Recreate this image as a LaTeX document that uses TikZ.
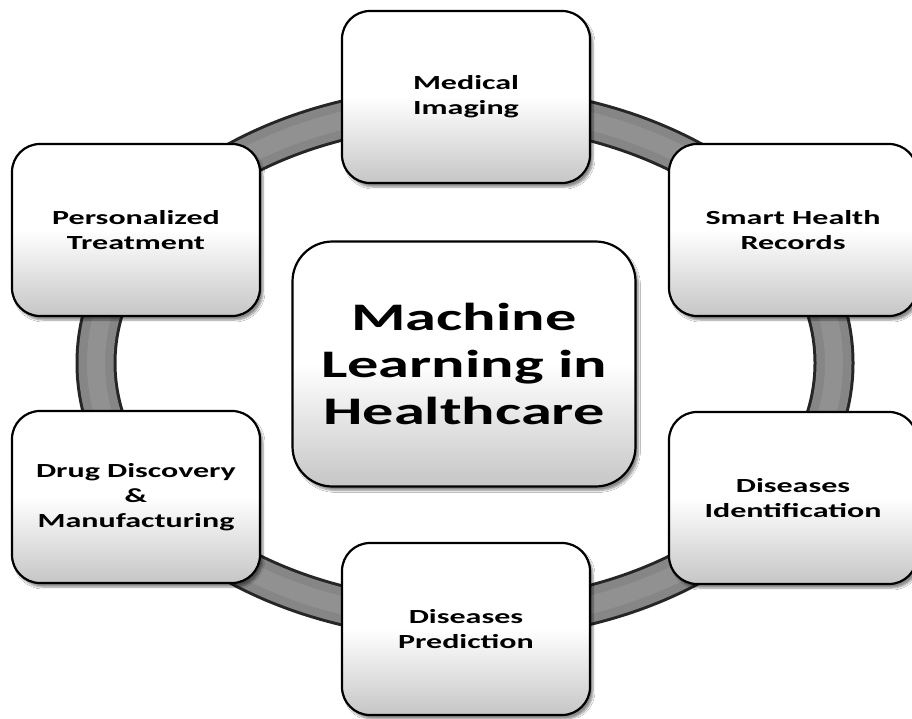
\documentclass[tikz,border=0pt]{standalone}
\usepackage{fontspec}
\setmainfont{Carlito}[FakeStretch=1.6]
\usetikzlibrary{shadows.blur}

\definecolor{ringgray}{HTML}{868686}
\definecolor{ringedge}{HTML}{262626}

\tikzset{
  topic/.style={draw=black, line width=2.2pt, rounded corners=28pt,
    minimum width=248pt, minimum height=172pt, align=center,
    top color=white, bottom color=gray!45, middle color=white,
    font=\fontsize{20}{25}\selectfont\bfseries,
    blur shadow={shadow xshift=3pt, shadow yshift=-4pt,
      shadow blur steps=6, shadow opacity=45}},
  hub/.style={topic, minimum width=343pt, minimum height=245pt,
    rounded corners=40pt, font=\fontsize{39}{47}\selectfont\bfseries}
}

\begin{document}
\begin{tikzpicture}[x=1pt,y=-1pt]
  \useasboundingbox (0,0) rectangle (912,718);
  \fill[white] (0,0) rectangle (912,718);

  % the ring behind the boxes
  \draw[line width=41pt, ringedge] (465,363) ellipse [x radius=369, y radius=257];
  \draw[line width=35pt, ringgray] (465,363) ellipse [x radius=369, y radius=257];
  \draw[line width=18pt, gray!70, opacity=0.35] (465,363) ellipse [x radius=369, y radius=257];

  % topics round the ring
  \node[topic] (imaging) at (466,97) {Medical\\Imaging};
  \node[topic] (records) at (793,230) {Smart Health\\Records};
  \node[topic] (ident) at (793,498) {Diseases\\Identification};
  \node[topic] (predict) at (466,629) {Diseases\\Prediction};
  \node[topic] (drug) at (136,497) {Drug Discovery\\\&\\Manufacturing};
  \node[topic] (treat) at (136,230) {Personalized\\Treatment};

  % centre
  \node[hub] (ml) at (464,364) {Machine\\Learning in\\Healthcare};
\end{tikzpicture}
\end{document}
